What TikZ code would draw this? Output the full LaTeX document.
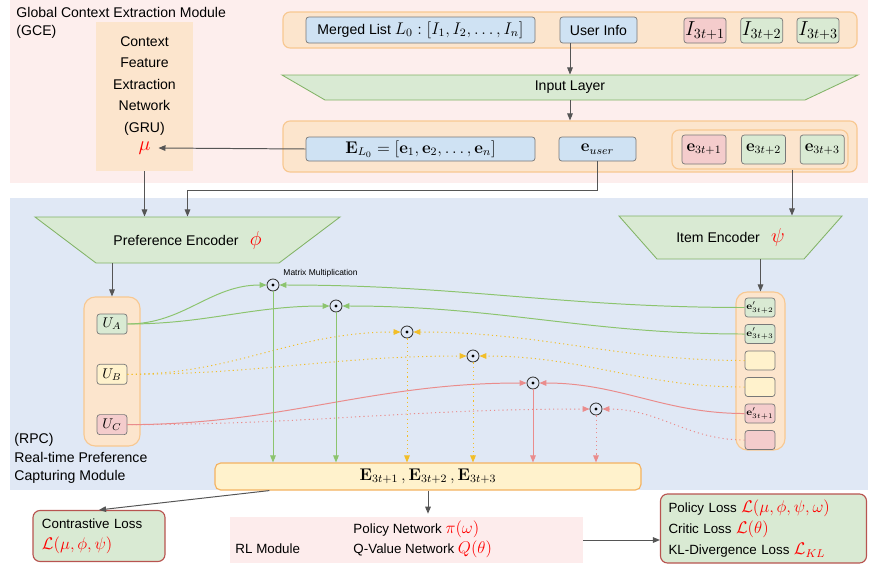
\documentclass[tikz,border=0pt]{standalone}
\usepackage[no-math]{fontspec}
\setmainfont{Liberation Sans}
\usepackage{amsmath}
\usepackage{amssymb}
\usepackage{tikz}
\usetikzlibrary{positioning, arrows.meta}

\definecolor{gcebg}{RGB}{253,238,237}
\definecolor{rpcbg}{RGB}{224,232,245}
\definecolor{orfill}{RGB}{252,229,205}
\definecolor{ordraw}{RGB}{248,200,145}
\definecolor{edraw}{RGB}{244,178,96}
\definecolor{bluefill}{RGB}{207,226,243}
\definecolor{greenfill}{RGB}{217,234,211}
\definecolor{greendraw}{RGB}{130,179,102}
\definecolor{redfill}{RGB}{244,204,204}
\definecolor{yellowfill}{RGB}{255,242,204}
\definecolor{boxdraw}{RGB}{120,120,120}
\definecolor{arrgray}{RGB}{85,85,85}
\definecolor{gline}{RGB}{140,196,110}
\definecolor{yline}{RGB}{242,190,40}
\definecolor{rline}{RGB}{234,140,140}
\definecolor{lossdraw}{RGB}{184,84,80}
\definecolor{rlbg}{RGB}{253,236,236}

\newcommand{\pxu}{0.025cm}

\begin{document}
\begin{tikzpicture}[x=\pxu, y=-\pxu, line width=0.7pt,
    box/.style={draw=boxdraw, line width=0.5pt, rounded corners=2pt, inner sep=0pt},
    grp/.style={draw=ordraw, fill=orfill, line width=0.8pt, rounded corners=5pt, inner sep=0pt},
    encfill/.style={fill=greenfill, draw=greendraw, line width=0.6pt},
    arr/.style={draw=arrgray, -{Triangle[length=5pt,width=4pt]}},
    garr/.style={draw=gline, -{Triangle[length=5pt,width=4pt]}},
    yarr/.style={draw=yline, dash pattern=on 0.8pt off 2.2pt, -{Triangle[length=5pt,width=4pt]}},
    rarr/.style={draw=rline, -{Triangle[length=5pt,width=4pt]}},
    rdarr/.style={draw=rline, dash pattern=on 0.8pt off 2.2pt, -{Triangle[length=5pt,width=4pt]}},
    mm/.style={circle, draw=black!80, line width=0.6pt, fill=rpcbg, minimum size=12*\pxu, inner sep=0pt,
        path picture={\fill[black] (path picture bounding box.center) circle (1.1pt);}},
    loss/.style={draw=lossdraw, fill=greenfill, line width=0.8pt, rounded corners=5pt}]

    \useasboundingbox (0,0) rectangle (869,567);

    % modules
    \fill[gcebg] (10,0) rectangle (868,183);
    \fill[rpcbg] (10,198) rectangle (868,490);

    \node[anchor=north west, align=left, inner sep=0pt, font=\fontsize{10}{12.8}\selectfont] (gcet) at (16,7) {Global Context Extraction Module\\(GCE)};
    \node[anchor=north west, align=left, inner sep=0pt, font=\fontsize{10}{13.2}\selectfont] (rpct) at (14,433) {(RPC)\\Real-time Preference\\Capturing Module};

    % GRU
    \node[fill=orfill, minimum width=97*\pxu, minimum height=149*\pxu] (ctx) at (144.5,96.5) {};
    \node[align=center, font=\fontsize{10}{15.3}\selectfont] (ctxt) at (144.5,86) {Context\\Feature\\Extraction\\Network\\(GRU)};
    \node[text=red, font=\Large] (mu) at (144.5,148) {$\mu$};

    % input row
    \node[grp, minimum width=574*\pxu, minimum height=36*\pxu] (inrow) at (570,30) {};
    \node[box, fill=bluefill, minimum width=229*\pxu, minimum height=26*\pxu] (ml) at (420.5,30) {Merged List {\large $L_0 : [I_1, I_2, \ldots, I_n]$}};
    \node[box, fill=bluefill, minimum width=77*\pxu, minimum height=26*\pxu] (ui) at (598.5,30) {User Info};
    \node[box, fill=redfill, minimum width=42*\pxu, minimum height=25*\pxu, font=\Large] (i1) at (705,30.5) {$I_{3t+1}$};
    \node[box, fill=greenfill, minimum width=42*\pxu, minimum height=25*\pxu, font=\Large, right=0.35cm of i1] (i2) {$I_{3t+2}$};
    \node[box, fill=greenfill, minimum width=42*\pxu, minimum height=25*\pxu, font=\Large, right=0.34cm of i2] (i3) {$I_{3t+3}$};

    \path[encfill] (282,75) -- (858,75) -- (805,100) -- (325,100) -- cycle;
    \node[minimum width=480*\pxu, minimum height=25*\pxu, inner sep=0pt] (inl) at (570,87.5) {Input Layer};

    % embedding row
    \node[grp, minimum width=574*\pxu, minimum height=51*\pxu] (embrow) at (570,146.5) {};
    \node[box, fill=bluefill, minimum width=229*\pxu, minimum height=24*\pxu, font=\large] (el0) at (420.5,149) {$\mathbf{E}_{L_0} = [\mathbf{e}_1, \mathbf{e}_2, \ldots, \mathbf{e}_n]$};
    \node[box, fill=bluefill, minimum width=77*\pxu, minimum height=24*\pxu, font=\large] (eu) at (597.5,149) {$\mathbf{e}_{user}$};
    \node[grp, minimum width=176*\pxu, minimum height=39*\pxu] (eg) at (760,149.5) {};
    \node[box, fill=redfill, minimum width=44*\pxu, minimum height=29*\pxu, font=\large] (e1) at (704,149.5) {$\mathbf{e}_{3t+1}$};
    \node[box, fill=greenfill, minimum width=44*\pxu, minimum height=29*\pxu, font=\large, right=0.37cm of e1] (e2) {$\mathbf{e}_{3t+2}$};
    \node[box, fill=greenfill, minimum width=44*\pxu, minimum height=29*\pxu, font=\large, right=0.35cm of e2] (e3) {$\mathbf{e}_{3t+3}$};

    \draw[arr] (ui.south -| inl.north) -- (inl.north);
    \draw[arr] (inl.south) -- (inl.south |- embrow.north);
    \draw[arr] (el0.west) -- ([xshift=2pt]mu.east);

    % encoders
    \path[encfill] (35,217) -- (340,217) -- (279,263) -- (96,263) -- cycle;
    \node[minimum width=305*\pxu, minimum height=46*\pxu, inner sep=0pt] (pe) at (187.5,240) {Preference Encoder\hspace{0.8em}{\Large\color{red}$\phi$}};
    \path[encfill] (619,216) -- (842,216) -- (804,259) -- (657,259) -- cycle;
    \node[minimum width=223*\pxu, minimum height=43*\pxu, inner sep=0pt] (ie) at (730.5,237.5) {Item Encoder\hspace{0.8em}{\Large\color{red}$\psi$}};

    \coordinate (bend) at (0,190);
    \draw[arr] (ctx.south) -- (ctx.south |- pe.north);
    \draw[arr] (eu.south) |- (bend -| pe.north) -- (pe.north);
    \draw[arr] ([xshift=32*\pxu]eg.south) -- ([xshift=32*\pxu]eg.south |- ie.north);

    % user preferences
    \node[grp, rounded corners=8pt, minimum width=56*\pxu, minimum height=149*\pxu] (ug) at (112,371.5) {};
    \node[box, fill=greenfill, minimum width=30*\pxu, minimum height=20*\pxu] (ua) at (112,324) {$U_A$};
    \node[box, fill=yellowfill, minimum width=30*\pxu, minimum height=20*\pxu, below=0.74cm of ua] (ub) {$U_B$};
    \node[box, fill=redfill, minimum width=30*\pxu, minimum height=20*\pxu, below=0.74cm of ub] (uc) {$U_C$};

    % item embeddings
    \node[grp, rounded corners=8pt, minimum width=49*\pxu, minimum height=158*\pxu] (ig) at (760.5,371) {};
    \node[box, fill=greenfill, minimum width=30*\pxu, minimum height=19*\pxu, font=\scriptsize] (ep2) at (760,307.5) {$\mathbf{e}'_{3t+2}$};
    \node[box, fill=greenfill, minimum width=30*\pxu, minimum height=19*\pxu, font=\scriptsize, below=0.17cm of ep2] (ep3) {$\mathbf{e}'_{3t+3}$};
    \node[box, fill=yellowfill, minimum width=30*\pxu, minimum height=19*\pxu, below=0.17cm of ep3] (yb1) {};
    \node[box, fill=yellowfill, minimum width=30*\pxu, minimum height=19*\pxu, below=0.17cm of yb1] (yb2) {};
    \node[box, fill=redfill, minimum width=30*\pxu, minimum height=19*\pxu, font=\scriptsize, below=0.17cm of yb2] (ep1) {$\mathbf{e}'_{3t+1}$};
    \node[box, fill=redfill, minimum width=30*\pxu, minimum height=19*\pxu, below=0.17cm of ep1] (rb) {};

    \draw[arr] (ug.north |- pe.south) -- (ug.north);
    \draw[arr] (ig.north |- ie.south) -- (ig.north);

    % matrix multiplication
    \node[mm] (m1) at (273,285) {};
    \node[mm] (m2) at (336,306) {};
    \node[mm] (m3) at (407,332) {};
    \node[mm] (m4) at (473,356) {};
    \node[mm] (m5) at (533,383) {};
    \node[mm] (m6) at (596,409) {};
    \node[anchor=west, inner sep=0pt, font=\fontsize{6}{7}\selectfont] (mmt) at (283,273) {Matrix Multiplication};

    \node[draw=edraw, fill=yellowfill, line width=0.8pt, rounded corners=4pt, minimum width=426*\pxu, minimum height=27*\pxu, font=\large] (ebox) at (428,476.5) {$\mathbf{E}_{3t+1}\,, \mathbf{E}_{3t+2}\,, \mathbf{E}_{3t+3}$};

    \draw[garr] (ua.east) to[out=0, in=180] (m1.west);
    \draw[garr] (ua.east) to[out=0, in=180] (m2.west);
    \draw[garr] (ep2.west) to[out=180, in=0] (m1.east);
    \draw[garr] (ep3.west) to[out=180, in=0] (m2.east);
    \draw[yarr] (ub.east) to[out=0, in=180] (m3.west);
    \draw[yarr] (ub.east) to[out=0, in=180] (m4.west);
    \draw[yarr] (yb1.west) to[out=180, in=0] (m3.east);
    \draw[yarr] (yb2.west) to[out=180, in=0] (m4.east);
    \draw[rarr] (uc.east) to[out=0, in=180] (m5.west);
    \draw[rdarr] (uc.east) to[out=0, in=180] (m6.west);
    \draw[rarr] (ep1.west) to[out=180, in=0] (m5.east);
    \draw[rdarr] (rb.west) to[out=180, in=0] (m6.east);

    \draw[garr] (m1.south) -- (m1.south |- ebox.north);
    \draw[garr] (m2.south) -- (m2.south |- ebox.north);
    \draw[yarr] (m3.south) -- (m3.south |- ebox.north);
    \draw[yarr] (m4.south) -- (m4.south |- ebox.north);
    \draw[rarr] (m5.south) -- (m5.south |- ebox.north);
    \draw[rdarr] (m6.south) -- (m6.south |- ebox.north);

    % losses
    \node[loss, align=left, text width=114*\pxu, inner xsep=9*\pxu, minimum height=51*\pxu, font=\fontsize{9.5}{15}\selectfont] (cl) at (99,536) {Contrastive Loss\\{\large\color{red}$\mathcal{L}(\mu, \phi, \psi)$}};
    \node[fill=rlbg, minimum width=353*\pxu, minimum height=46*\pxu] (rl) at (406.5,540) {};
    \node[anchor=west, inner sep=0pt, font=\fontsize{9.5}{15}\selectfont] (rlt) at (235,549) {RL Module};
    \node[anchor=west, align=left, inner sep=0pt, font=\fontsize{9.5}{14.2}\selectfont] (rln) at (353,539) {Policy Network {\large\color{red}$\pi(\omega)$}\\Q-Value Network {\large\color{red}$Q(\theta)$}};
    \node[loss, align=left, text width=190*\pxu, inner xsep=8*\pxu, minimum height=69*\pxu, font=\fontsize{9.5}{15}\selectfont] (lb) at (763.5,528.5) {Policy Loss {\large\color{red}$\mathcal{L}(\mu, \phi, \psi, \omega)$}\\Critic Loss {\large\color{red}$\mathcal{L}(\theta)$}\\KL-Divergence Loss {\large\color{red}$\mathcal{L}_{KL}$}};

    \draw[arr] ([xshift=55*\pxu]ebox.south west) -- (cl.north);
    \draw[arr, shorten >=2pt] (ebox.south) -- (ebox.south |- rl.north);
    \draw[arr] (rl.east) -- (rl.east -| lb.west);
\end{tikzpicture}
\end{document}
